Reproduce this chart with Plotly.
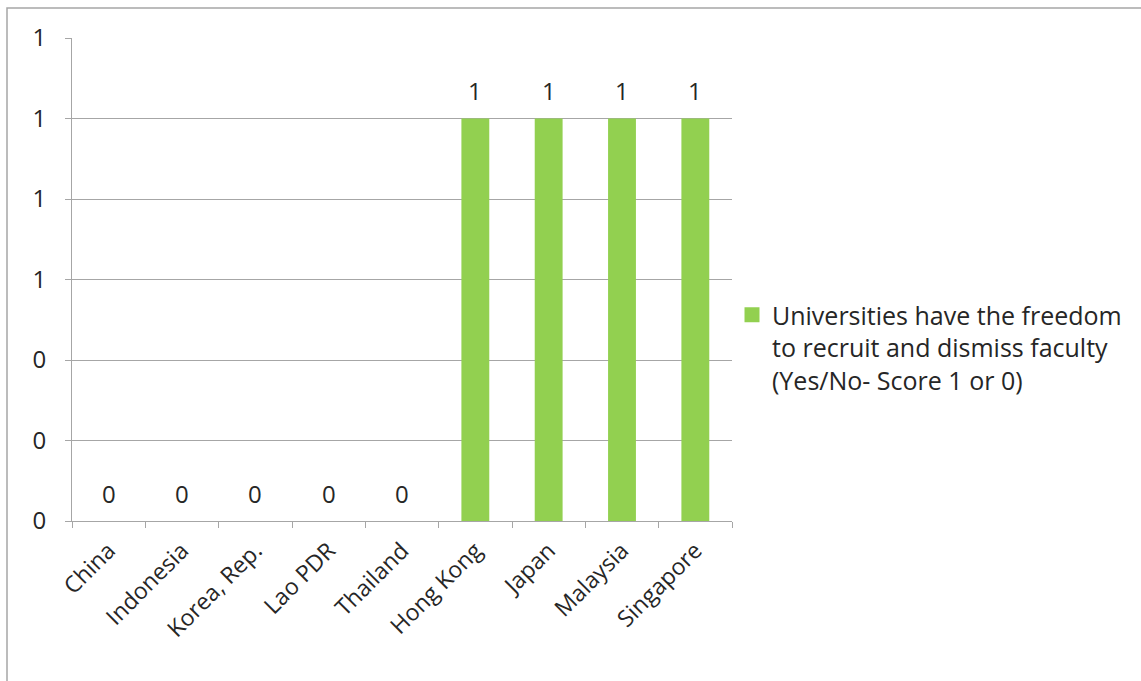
import plotly.graph_objects as go

categories = ["China", "Indonesia", "Korea, Rep.", "Lao PDR", "Thailand",
              "Hong Kong", "Japan", "Malaysia", "Singapore"]
values = [0, 0, 0, 0, 0, 1, 1, 1, 1]
series_name = "Universities have the freedom<br>to recruit and dismiss faculty<br>(Yes/No- Score 1 or 0)"
y_ticks = [0, 0.2, 0.4, 0.6, 0.8, 1.0, 1.2]

W, H = 1141, 681
L, R, T, B = 72, 732, 38, 521
FONT = "Open Sans"
GRID = "#a6a6a6"
TXT = "#262626"
GREEN = "#92D050"

fig = go.Figure()
fig.add_trace(go.Bar(
    x=categories, y=values, name=series_name, showlegend=False,
    marker=dict(color=GREEN, line=dict(width=0)),
    width=0.38,
))
# legend entry (larger square swatch like the original)
fig.add_trace(go.Scatter(
    x=[None], y=[None], mode="markers", name=series_name,
    marker=dict(symbol="square", size=15, color=GREEN, line=dict(width=0)),
))

# data labels above bars
for c, v in zip(categories, values):
    fig.add_annotation(x=c, y=v, text=str(v), showarrow=False,
                       yanchor="middle", yshift=28,
                       font=dict(family=FONT, size=24, color=TXT))

def px_x(p):
    return (p - L) / (R - L)

def px_y(p):
    return (B - p) / (B - T)

fig.update_layout(
    width=W, height=H,
    margin=dict(l=L, r=W - R, t=T, b=H - B, pad=0),
    paper_bgcolor="white", plot_bgcolor="white",
    font=dict(family=FONT, size=24, color=TXT),
    showlegend=True,
    legend=dict(x=px_x(732), y=px_y(292), xanchor="left", yanchor="top",
                valign="top",
                font=dict(family=FONT, size=25, color=TXT),
                itemwidth=30, bgcolor="rgba(0,0,0,0)"),
    xaxis=dict(type="category", showline=True, linecolor=GRID, linewidth=1,
               ticks="outside", tickson="boundaries", ticklen=6, tickcolor=GRID,
               tickangle=-45, showgrid=False, ticklabelstandoff=6,
               tickfont=dict(family=FONT, size=23, color=TXT)),
    yaxis=dict(range=[0, 1.2], tickvals=y_ticks, tickformat=".0f",
               showline=True, linecolor=GRID, linewidth=1,
               ticks="outside", ticklen=6, tickcolor=GRID, ticklabelstandoff=14,
               showgrid=True, gridcolor=GRID, gridwidth=1, zeroline=False,
               tickfont=dict(family=FONT, size=24, color=TXT)),
    shapes=[dict(type="rect", xref="paper", yref="paper",
                 x0=px_x(7), x1=px_x(1200), y0=px_y(740), y1=px_y(8),
                 line=dict(color=GRID, width=1.5), layer="below")],
)

fig.write_html("out.html")
